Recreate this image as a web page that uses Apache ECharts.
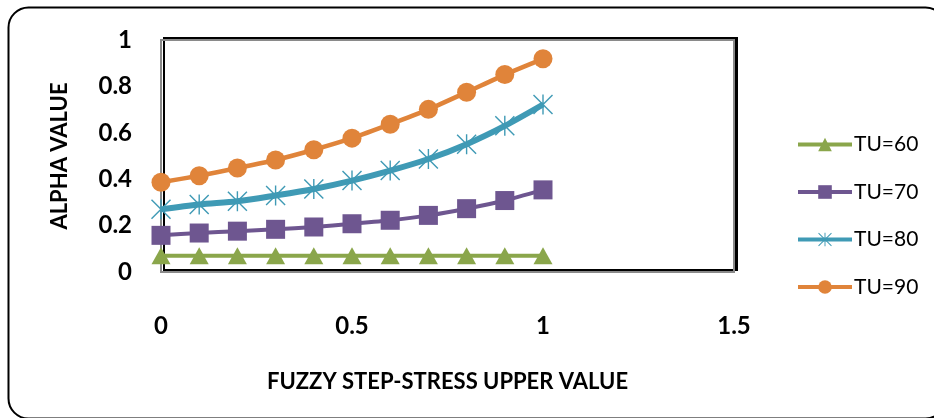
<!DOCTYPE html>
<html>
<head>
<meta charset="utf-8">
<script src="https://cdn.jsdelivr.net/npm/echarts@6/dist/echarts.min.js"></script>
<style>
  html, body { margin: 0; padding: 0; background: #fff; }
  #chart { width: 934px; height: 418px; }
</style>
</head>
<body>
<div id="chart"></div>
<script>
// Fuzzy step-stress upper value (x) against alpha value (y)
const xValues = [0, 0.1, 0.2, 0.3, 0.4, 0.5, 0.6, 0.7, 0.8, 0.9, 1.0];
const seriesNames = ['TU=60', 'TU=70', 'TU=80', 'TU=90'];
const tu60 = [0.07, 0.07, 0.07, 0.07, 0.07, 0.07, 0.07, 0.07, 0.07, 0.07, 0.07];
const tu70 = [0.158, 0.168, 0.176, 0.184, 0.194, 0.208, 0.223, 0.244, 0.273, 0.308, 0.354];
const tu80 = [0.270, 0.291, 0.305, 0.330, 0.358, 0.394, 0.437, 0.487, 0.551, 0.630, 0.722];
const tu90 = [0.387, 0.415, 0.448, 0.483, 0.527, 0.577, 0.637, 0.701, 0.775, 0.851, 0.919];

const FONT = 'Lato';
const colors = ['#8aa64b', '#6e5690', '#3f9ab5', '#e0843a'];

// asterisk marker: vertical bar plus two diagonals
const asterisk = 'path://M9.3 0 L10.7 0 L10.7 20 L9.3 20 Z M0 1 L1 0 L20 19 L19 20 Z M19 0 L20 1 L1 20 L0 19 Z';

function pairs(ys) {
  return xValues.map((x, i) => [x, ys[i]]);
}

const chart = echarts.init(document.getElementById('chart'), null, { renderer: 'canvas' });

chart.setOption({
  animation: false,
  backgroundColor: '#ffffff',
  graphic: [{
    type: 'rect',
    shape: { x: 8.5, y: 7.5, width: 937, height: 411, r: 20 },
    style: { fill: 'none', stroke: '#000', lineWidth: 2 },
    z: -10
  }],
  grid: {
    left: 161, top: 40, right: 200, bottom: 146,
    show: true,
    backgroundColor: '#ffffff',
    borderColor: '#8a8a8a',
    borderWidth: 2,
    shadowColor: '#000000',
    shadowBlur: 0,
    shadowOffsetX: 3,
    shadowOffsetY: -2
  },
  legend: {
    orient: 'vertical',
    left: 791,
    top: 129,
    itemWidth: 54,
    itemHeight: 17,
    itemGap: 26.5,
    textStyle: { fontFamily: FONT, fontSize: 21, color: '#000', padding: [0, 0, 0, -3] },
    data: seriesNames.map((name, i) => ({
      name: name,
      lineStyle: { width: 4, color: colors[i] }
    }))
  },
  xAxis: {
    type: 'value',
    min: 0, max: 1.5, interval: 0.5,
    name: 'FUZZY STEP-STRESS UPPER VALUE',
    nameLocation: 'middle',
    nameGap: 99,
    nameTextStyle: { fontFamily: FONT, fontWeight: 'bold', fontSize: 22, color: '#000' },
    axisLine: { show: false },
    axisTick: { show: false },
    splitLine: { show: false },
    axisLabel: { margin: 42, fontFamily: FONT, fontWeight: 'bold', fontSize: 24, color: '#000' }
  },
  yAxis: {
    type: 'value',
    min: 0, max: 1, interval: 0.2,
    name: 'ALPHA VALUE',
    nameLocation: 'middle',
    nameGap: 90,
    nameTextStyle: { fontFamily: FONT, fontWeight: 'bold', fontSize: 22, color: '#000' },
    axisLine: { show: false },
    axisTick: { show: false },
    splitLine: { show: false },
    axisLabel: { margin: 29, fontFamily: FONT, fontWeight: 'bold', fontSize: 24, color: '#000' }
  },
  series: [
    {
      name: 'TU=60', type: 'line', data: pairs(tu60),
      symbol: 'triangle', symbolSize: [19, 17],
      itemStyle: { color: colors[0] },
      lineStyle: { color: colors[0], width: 4 }
    },
    {
      name: 'TU=70', type: 'line', data: pairs(tu70),
      symbol: 'rect', symbolSize: 19, smooth: 0.2,
      itemStyle: { color: colors[1] },
      lineStyle: { color: colors[1], width: 4 }
    },
    {
      name: 'TU=80', type: 'line', data: pairs(tu80),
      symbol: asterisk, symbolSize: 20, smooth: 0.3,
      itemStyle: { color: colors[2] },
      lineStyle: { color: colors[2], width: 6 }
    },
    {
      name: 'TU=90', type: 'line', data: pairs(tu90),
      symbol: 'circle', symbolSize: 19, smooth: 0.2,
      itemStyle: { color: colors[3] },
      lineStyle: { color: colors[3], width: 4.5 }
    }
  ]
});
</script>
</body>
</html>
